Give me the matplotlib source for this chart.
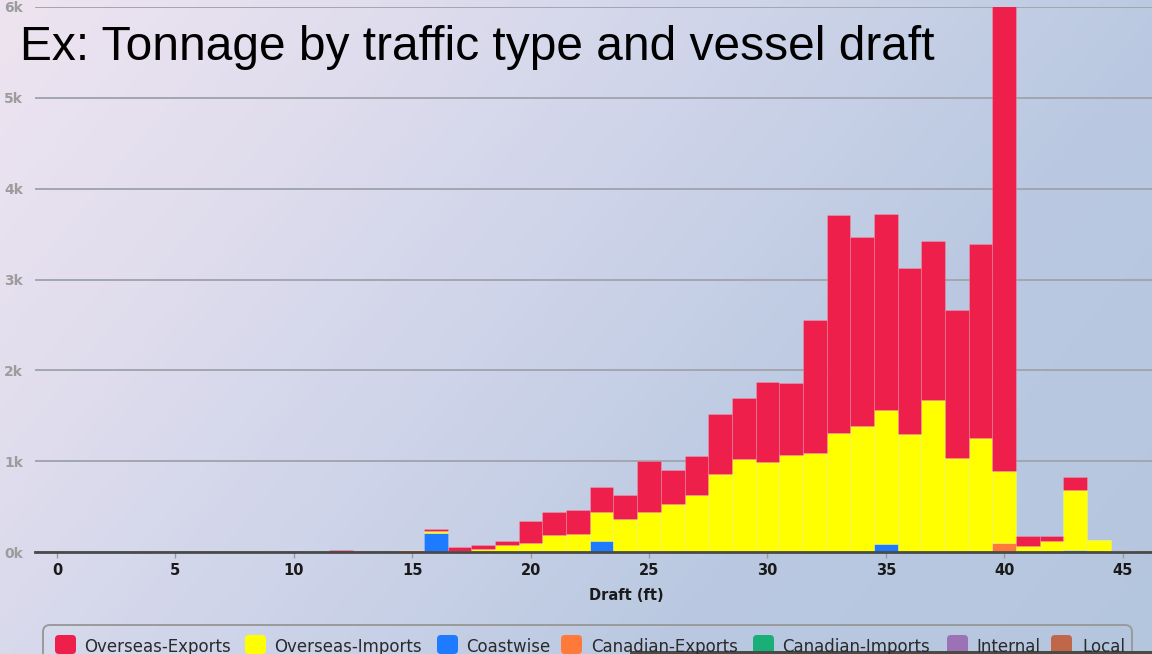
import numpy as np
import matplotlib
matplotlib.use("Agg")
import matplotlib.pyplot as plt
from matplotlib.patches import FancyBboxPatch, Rectangle

# ---------------- data ----------------
drafts = list(range(0, 46))
series_names = ["Overseas-Exports", "Overseas-Imports", "Coastwise",
                "Canadian-Exports", "Canadian-Imports", "Internal", "Local"]
series_colors = ["#EF1F4B", "#FFFF00", "#1E7BFF", "#FF7A3A", "#1AAF78", "#9B72B5", "#C0674A"]

overseas_exports = [0]*10 + [10, 5, 25, 10, 10, 0, 25, 50, 45, 50,
                             233, 250, 260, 280, 255, 560, 370, 435, 660, 675,
                             880, 790, 1470, 2400, 2075, 2150, 1830, 1750, 1630, 2130,
                             6400, 105, 50, 140, 0, 0]
overseas_imports = [0]*16 + [25, 10, 35, 75,
                             107, 190, 200, 320, 370, 440, 530, 625, 860, 1025,
                             990, 1070, 1090, 1310, 1390, 1480, 1300, 1670, 1040, 1245,
                             790, 70, 125, 670, 140, 0]
coastwise = [0]*16 + [210] + [0]*6 + [120] + [0]*11 + [90] + [0]*10
canadian_exports = [0]*15 + [20] + [0]*23 + [15, 100] + [0]*4 + [15]
canadian_imports = [0]*43 + [20, 0, 0]
internal = [0]*46
local = [0]*46

y_ticks = [0, 1000, 2000, 3000, 4000, 5000, 6000]
y_ticklabels = ["0k", "1k", "2k", "3k", "4k", "5k", "6k"]
x_ticks = [0, 5, 10, 15, 20, 25, 30, 35, 40, 45]
title = "Ex: Tonnage by traffic type and vessel draft"
x_label = "Draft (ft)"

# ---------------- figure ----------------
W, H = 1152, 654
fig = plt.figure(figsize=(W/100, H/100), dpi=100)

# background gradient
bg = fig.add_axes([0, 0, 1, 1], zorder=0)
bg.set_axis_off()
xx, yy = np.meshgrid(np.linspace(0, 1, 400), np.linspace(0, 1, 230))
t = np.clip(0.68*xx + 0.32*yy, 0, 1)
stops_t = [0.0, 0.2, 0.45, 0.7, 1.0]
stops_c = np.array([[238, 228, 240], [226, 222, 238], [206, 212, 233],
                    [186, 201, 225], [180, 198, 222]]) / 255.0
img = np.zeros(t.shape + (3,))
for k in range(3):
    img[..., k] = np.interp(t, stops_t, stops_c[:, k])
bg.imshow(img, extent=[0, 1, 0, 1], aspect="auto", origin="upper")
bg.set_xlim(0, 1)
bg.set_ylim(0, 1)

# main axes
x0_px, xunit = 57.0, 23.68
left_px, top_px, base_px = 35.0, 6.7, 552.3
xmin = (left_px - x0_px) / xunit
xmax = (W - x0_px) / xunit
ax = fig.add_axes([left_px/W, 1 - base_px/H, (W - left_px)/W, (base_px - top_px)/H], zorder=1)
ax.patch.set_alpha(0)

stack_order = [local, internal, canadian_imports, canadian_exports, coastwise,
               overseas_imports, overseas_exports]
stack_colors = series_colors[::-1]
bottom = np.zeros(len(drafts))
for vals, col in zip(stack_order, stack_colors):
    v = np.array(vals, dtype=float)
    ax.bar(drafts, v, width=1.0, bottom=bottom, color=col,
           edgecolor=(1, 1, 1, 0.18), linewidth=0.6, zorder=3)
    bottom += v

ax.set_xlim(xmin, xmax)
ax.set_ylim(0, 6000)
ax.set_yticks(y_ticks)
ax.set_yticklabels(y_ticklabels)
ax.set_xticks(x_ticks)
ax.set_xticklabels([str(v) for v in x_ticks])
ax.yaxis.grid(True, color="#a2a6b0", linewidth=1.4, zorder=1)
ax.set_axisbelow(True)
for s in ["top", "right", "left"]:
    ax.spines[s].set_visible(False)
ax.spines["bottom"].set_color("#4a4a4a")
ax.spines["bottom"].set_linewidth(2.0)
ax.spines["bottom"].set_zorder(4)
ax.tick_params(axis="y", length=0, pad=8.6, labelsize=10, labelcolor="#9c9c9c")
ax.tick_params(axis="x", length=4, width=1, color="#9a9a9a", pad=3.5,
               labelsize=10.5, labelcolor="#1a1a1a")
for lab in ax.get_yticklabels() + ax.get_xticklabels():
    lab.set_fontweight("bold")
    lab.set_family("DejaVu Sans")

# overlay in pixel coordinates
ov = fig.add_axes([0, 0, 1, 1], zorder=2)
ov.set_xlim(0, W)
ov.set_ylim(H, 0)
ov.set_axis_off()
ov.patch.set_alpha(0)

ov.text(626, 595, x_label, ha="center", va="center", fontsize=10.5,
        fontweight="bold", color="#1a1a1a", family="DejaVu Sans")

ov.text(20, 60, title, ha="left", va="baseline", fontsize=34.5,
        family="Liberation Sans", color="black")

# legend box
ov.add_patch(FancyBboxPatch((43, 625), 1132 - 43, 60,
                            boxstyle="round,pad=0,rounding_size=7",
                            facecolor="none", edgecolor="#9a9a9a", linewidth=1.4,
                            clip_on=False))
sq_x = [55, 245, 437, 561, 753, 947, 1051]
tx_x = [84, 274, 466, 591, 782, 976, 1082]
for name, col, sx, tx in zip(series_names, series_colors, sq_x, tx_x):
    ov.add_patch(FancyBboxPatch((sx, 635), 21, 19,
                                boxstyle="round,pad=0,rounding_size=4",
                                facecolor=col, edgecolor="none", clip_on=False))
    ov.text(tx, 652, name, ha="left", va="baseline", fontsize=12,
            family="DejaVu Sans", color="#2a2a2a")

# dark strip at bottom (cut-off image below the slide)
ov.add_patch(Rectangle((630, 651), W - 630, 4, facecolor="#4d4a45", edgecolor="none"))

fig.savefig("out.png", dpi=100)
